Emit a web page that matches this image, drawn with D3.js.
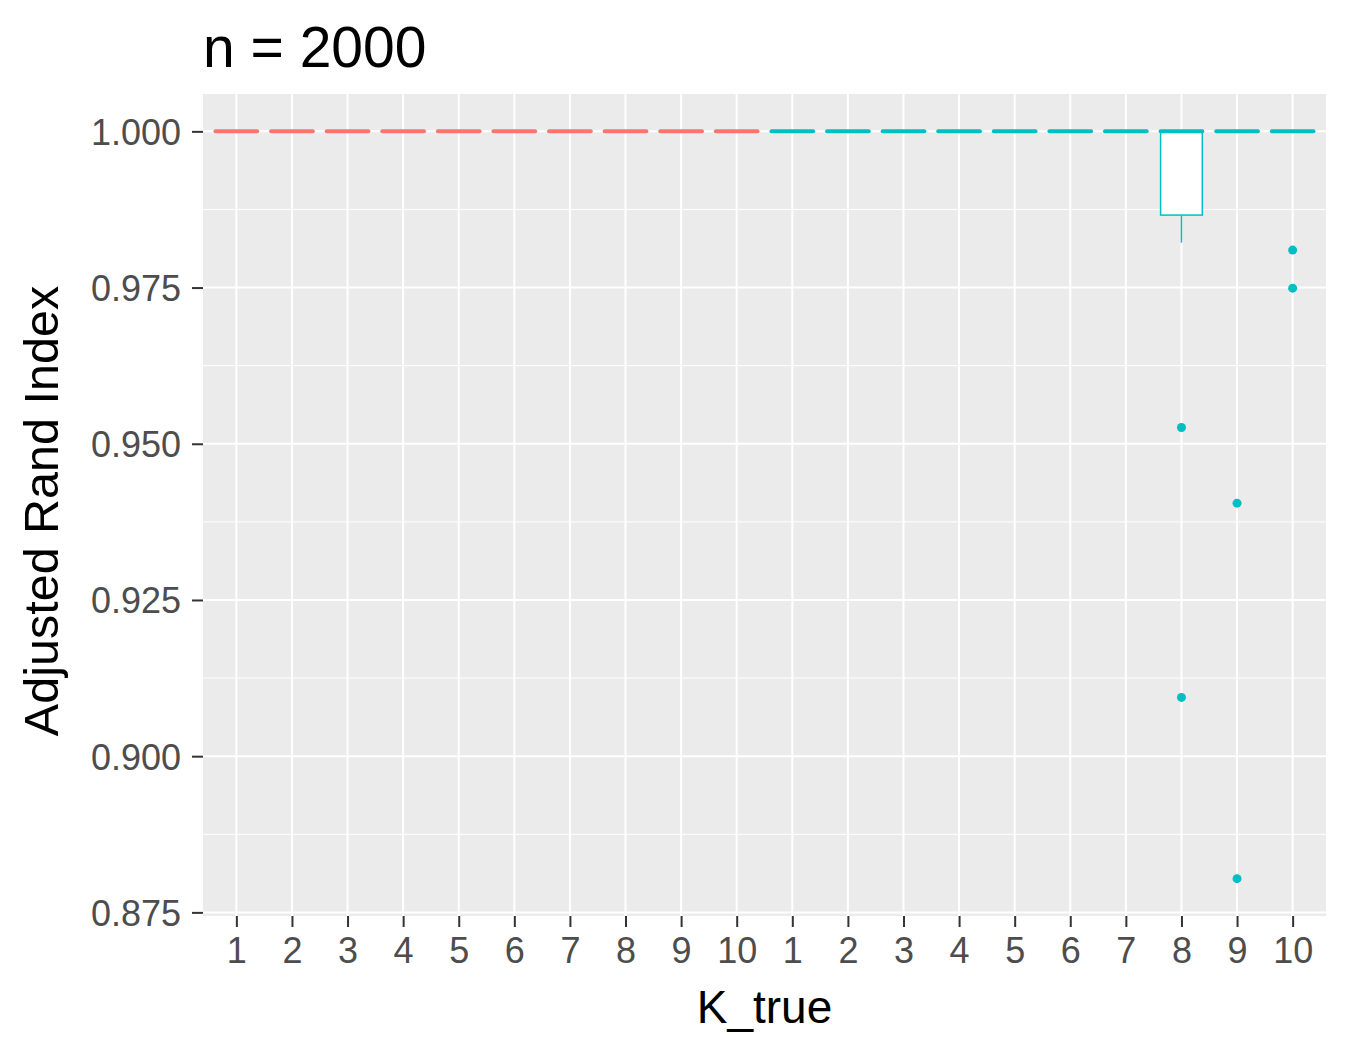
<!DOCTYPE html>
<html>
<head>
<meta charset="UTF-8">
<title>n = 2000</title>
<script src="https://d3js.org/d3.v7.min.js"></script>
<style>
  body { margin: 0; background: #fff; }
  svg text { font-family: "Liberation Sans", Arial, Helvetica, sans-serif; }
</style>
</head>
<body>
<svg width="1350" height="1050"></svg>
<script>
// two colour groups, each with K_true = 1..10
const groups = ["g1", "g2"];
const groupColors = ["#F8766D", "#00BFC4"];
const kValues = [1, 2, 3, 4, 5, 6, 7, 8, 9, 10];

// box stats per K, in kValues order
const g1Low   = [1, 1, 1, 1, 1, 1, 1, 1, 1, 1];
const g1Q1    = [1, 1, 1, 1, 1, 1, 1, 1, 1, 1];
const g1Med   = [1, 1, 1, 1, 1, 1, 1, 1, 1, 1];
const g1Q3    = [1, 1, 1, 1, 1, 1, 1, 1, 1, 1];
const g1High  = [1, 1, 1, 1, 1, 1, 1, 1, 1, 1];
const g1Out   = [[], [], [], [], [], [], [], [], [], []];

const g2Low   = [1, 1, 1, 1, 1, 1, 1, 0.9822, 1, 1];
const g2Q1    = [1, 1, 1, 1, 1, 1, 1, 0.9866, 1, 1];
const g2Med   = [1, 1, 1, 1, 1, 1, 1, 1, 1, 1];
const g2Q3    = [1, 1, 1, 1, 1, 1, 1, 1, 1, 1];
const g2High  = [1, 1, 1, 1, 1, 1, 1, 1, 1, 1];
const g2Out   = [[], [], [], [], [], [], [], [0.9526, 0.9094], [0.9405, 0.8804], [0.9810, 0.9749]];

const yTicks = [0.875, 0.900, 0.925, 0.950, 0.975, 1.000];
const yMinor = [0.8875, 0.9125, 0.9375, 0.9625, 0.9875];

const stats = [
  { low: g1Low, q1: g1Q1, med: g1Med, q3: g1Q3, high: g1High, out: g1Out },
  { low: g2Low, q1: g2Q1, med: g2Med, q3: g2Q3, high: g2High, out: g2Out }
];

const boxes = [];
groups.forEach((g, gi) => {
  kValues.forEach((k, i) => {
    const s = stats[gi];
    boxes.push({
      key: g + "-" + k, k: k, color: groupColors[gi],
      low: s.low[i], q1: s.q1[i], med: s.med[i], q3: s.q3[i], high: s.high[i], out: s.out[i]
    });
  });
});

const panel = { left: 203, right: 1326, top: 94, bottom: 916 };

const svg = d3.select("svg");

const allVals = boxes.flatMap(b => [b.low, b.high, ...b.out]);
const yMin = d3.min(allVals), yMax = d3.max(allVals);
const pad = (yMax - yMin) * 0.05;

const y = d3.scaleLinear()
  .domain([yMin - pad, yMax + pad])
  .range([panel.bottom, panel.top]);

const x = d3.scalePoint()
  .domain(boxes.map(b => b.key))
  .range([panel.left, panel.right])
  .padding(0.6);

const boxW = x.step() * 0.75;

// panel background
svg.append("rect")
  .attr("x", panel.left).attr("y", panel.top)
  .attr("width", panel.right - panel.left)
  .attr("height", panel.bottom - panel.top)
  .attr("fill", "#EBEBEB");

// minor grid
svg.append("g").selectAll("line").data(yMinor).enter().append("line")
  .attr("x1", panel.left).attr("x2", panel.right)
  .attr("y1", d => y(d)).attr("y2", d => y(d))
  .attr("stroke", "#fff").attr("stroke-width", 1);

// major grid
svg.append("g").selectAll("line").data(yTicks).enter().append("line")
  .attr("x1", panel.left).attr("x2", panel.right)
  .attr("y1", d => y(d)).attr("y2", d => y(d))
  .attr("stroke", "#fff").attr("stroke-width", 2);

svg.append("g").selectAll("line").data(boxes).enter().append("line")
  .attr("x1", d => x(d.key)).attr("x2", d => x(d.key))
  .attr("y1", panel.top).attr("y2", panel.bottom)
  .attr("stroke", "#fff").attr("stroke-width", 2);

// boxplots
const bg = svg.append("g").selectAll("g").data(boxes).enter().append("g");

bg.append("line")
  .attr("x1", d => x(d.key)).attr("x2", d => x(d.key))
  .attr("y1", d => y(d.high)).attr("y2", d => y(d.q3))
  .attr("stroke", d => d.color).attr("stroke-width", 1.5);

bg.append("line")
  .attr("x1", d => x(d.key)).attr("x2", d => x(d.key))
  .attr("y1", d => y(d.q1)).attr("y2", d => y(d.low))
  .attr("stroke", d => d.color).attr("stroke-width", 1.5);

bg.append("rect")
  .attr("x", d => x(d.key) - boxW / 2)
  .attr("width", boxW)
  .attr("y", d => y(d.q3))
  .attr("height", d => y(d.q1) - y(d.q3))
  .attr("fill", "#fff")
  .attr("stroke", d => d.color).attr("stroke-width", 1.5);

bg.append("line")
  .attr("x1", d => x(d.key) - boxW / 2).attr("x2", d => x(d.key) + boxW / 2)
  .attr("y1", d => y(d.med)).attr("y2", d => y(d.med))
  .attr("stroke", d => d.color).attr("stroke-width", 4)
  .attr("stroke-linecap", "round");

bg.selectAll("circle").data(d => d.out.map(v => ({ v: v, key: d.key, color: d.color })))
  .enter().append("circle")
  .attr("cx", d => x(d.key)).attr("cy", d => y(d.v))
  .attr("r", 4.5).attr("fill", d => d.color);

// axes
const yAxis = svg.append("g")
  .attr("transform", `translate(${panel.left},0)`)
  .call(d3.axisLeft(y).tickValues(yTicks).tickFormat(d3.format(".3f")).tickSize(11).tickPadding(11));

const xAxis = svg.append("g")
  .attr("transform", `translate(0,${panel.bottom})`)
  .call(d3.axisBottom(x).tickFormat(key => key.split("-")[1]).tickSize(11).tickPadding(10));

[yAxis, xAxis].forEach(a => {
  a.select(".domain").remove();
  a.selectAll(".tick line").attr("stroke", "#333").attr("stroke-width", 2);
  a.selectAll(".tick text").attr("fill", "#4D4D4D").style("font-size", "36px");
});
yAxis.selectAll(".tick text").attr("dy", "0.36em");

// titles
svg.append("text")
  .attr("x", 203).attr("y", 67)
  .style("font-size", "57px").attr("fill", "#000")
  .text("n = 2000");

svg.append("text")
  .attr("x", (panel.left + panel.right) / 2).attr("y", 1023)
  .attr("text-anchor", "middle")
  .style("font-size", "46px").attr("fill", "#000")
  .text("K_true");

svg.append("text")
  .attr("transform", `translate(58,${(panel.top + panel.bottom) / 2 + 6}) rotate(-90)`)
  .attr("text-anchor", "middle")
  .style("font-size", "48.5px").attr("fill", "#000")
  .text("Adjusted Rand Index");
</script>
</body>
</html>
